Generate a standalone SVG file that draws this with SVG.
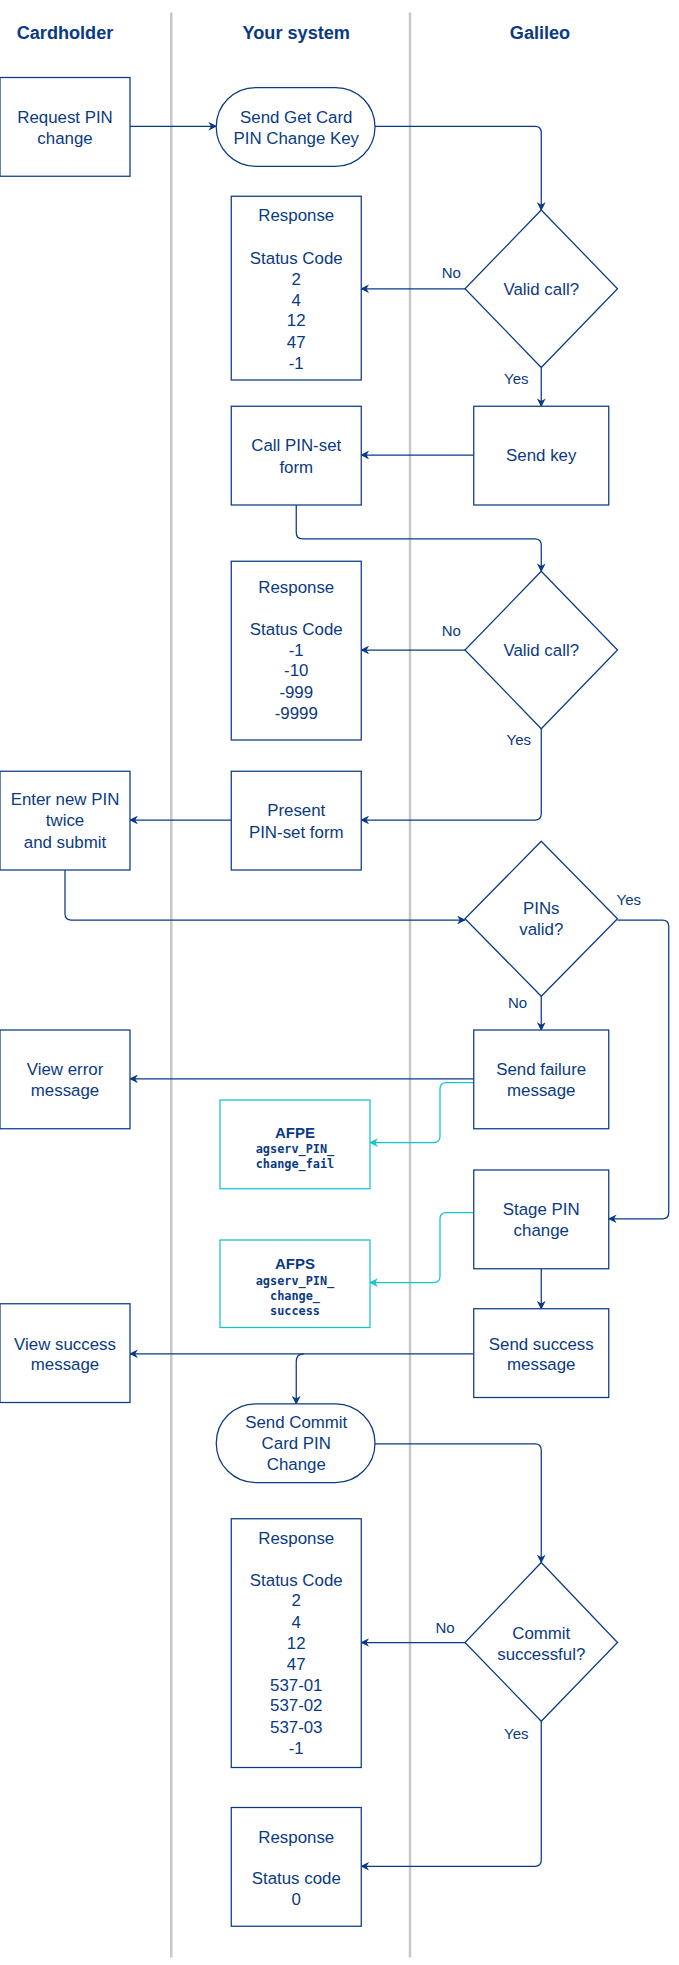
<svg xmlns="http://www.w3.org/2000/svg" width="679" height="1965" viewBox="0 0 679 1965">
<defs>
<style>
.n{fill:#fff;stroke:#0a3a84;stroke-width:1}
.c{fill:#fff;stroke:#17c3cc;stroke-width:1}
text{font-family:"Liberation Sans",Arial,sans-serif;font-size:13.5px;fill:#0a3a84;text-anchor:middle}
.h{font-weight:bold;font-size:14.5px}
.m{font-family:"DejaVu Sans Mono","Liberation Mono",monospace;font-weight:bold;font-size:9.5px}
.b{font-weight:bold;font-size:12px}
.e{fill:none;stroke:#0a3a84;stroke-width:1}
.ec{fill:none;stroke:#17c3cc;stroke-width:1}
.l{font-size:12px}
</style>
<marker id="a" viewBox="0 0 10 10" refX="9" refY="5" markerWidth="7" markerHeight="7" orient="auto"><path d="M0,0 L10,5 L0,10 L3,5 Z" fill="#0a3a84"/></marker>
<marker id="ac" viewBox="0 0 10 10" refX="9" refY="5" markerWidth="7" markerHeight="7" orient="auto"><path d="M0,0 L10,5 L0,10 L3,5 Z" fill="#17c3cc"/></marker>
</defs>
<rect width="679" height="1965" fill="#fff"/>
<g transform="scale(1.25)">
<g id="lanes">
<line x1="137" y1="10" x2="137" y2="1566" stroke="#c8c8c8" stroke-width="2"/>
<line x1="328" y1="10" x2="328" y2="1566" stroke="#c8c8c8" stroke-width="2"/>
<text class="h" x="52" y="31">Cardholder</text>
<text class="h" x="237" y="31">Your system</text>
<text class="h" x="432" y="31">Galileo</text>
</g>
<g id="connectors">
<path class="e" marker-end="url(#a)" d="M104,101 H173"/>
<path class="e" marker-end="url(#a)" d="M300,101 H428 Q433,101 433,106 V168"/>
<path class="e" marker-end="url(#a)" d="M372,231 H289"/>
<path class="e" marker-end="url(#a)" d="M433,294 V325"/>
<path class="e" marker-end="url(#a)" d="M379,364 H289"/>
<path class="e" marker-end="url(#a)" d="M237,404 V426 Q237,431 242,431 H428 Q433,431 433,436 V457"/>
<path class="e" marker-end="url(#a)" d="M372,520 H289"/>
<path class="e" marker-end="url(#a)" d="M433,583 V651 Q433,656 428,656 H289"/>
<path class="e" marker-end="url(#a)" d="M185,656 H104"/>
<path class="e" marker-end="url(#a)" d="M52,696 V731 Q52,736 57,736 H372"/>
<path class="e" marker-end="url(#a)" d="M494,736 H530 Q535,736 535,741 V970 Q535,975 530,975 H487"/>
<path class="e" marker-end="url(#a)" d="M433,797 V824"/>
<path class="e" marker-end="url(#a)" d="M379,863 H104"/>
<path class="ec" marker-end="url(#ac)" d="M379,866 H357 Q352,866 352,871 V909 Q352,914 347,914 H296"/>
<path class="ec" marker-end="url(#ac)" d="M379,970 H357 Q352,970 352,975 V1021 Q352,1026 347,1026 H296"/>
<path class="e" marker-end="url(#a)" d="M433,1015 V1047"/>
<path class="e" marker-end="url(#a)" d="M379,1083 H104"/>
<path class="e" marker-end="url(#a)" d="M243,1083 Q237,1083 237,1089 V1123"/>
<path class="e" marker-end="url(#a)" d="M300,1155 H428 Q433,1155 433,1160 V1250"/>
<path class="e" marker-end="url(#a)" d="M372,1314 H289"/>
<path class="e" marker-end="url(#a)" d="M433,1377 V1488 Q433,1493 428,1493 H289"/>
<text class="l" x="361" y="222">No</text>
<text class="l" x="413" y="307">Yes</text>
<text class="l" x="361" y="509">No</text>
<text class="l" x="415" y="596">Yes</text>
<text class="l" x="503" y="724">Yes</text>
<text class="l" x="414" y="806">No</text>
<text class="l" x="356" y="1306">No</text>
<text class="l" x="413" y="1391">Yes</text>
</g>
<g id="request"><rect class="n" x="0" y="62" width="104" height="79"/><text x="52" y="98">Request PIN</text><text x="52" y="115">change</text></g>
<g id="getkey"><rect class="n" x="173" y="70" width="127" height="63" rx="31.5"/><text x="237" y="98">Send Get Card</text><text x="237" y="115">PIN Change Key</text></g>
<g id="resp1"><rect class="n" x="185" y="157" width="104" height="147"/><text x="237" y="177">Response</text><text x="237" y="211">Status Code</text><text x="237" y="228">2</text><text x="237" y="245">4</text><text x="237" y="261">12</text><text x="237" y="278">47</text><text x="237" y="295">-1</text></g>
<g id="valid1"><path class="n" d="M433,168 L494,231 L433,294 L372,231 Z"/><text x="433" y="236">Valid call?</text></g>
<g id="sendkey"><rect class="n" x="379" y="325" width="108" height="79"/><text x="433" y="369">Send key</text></g>
<g id="callform"><rect class="n" x="185" y="325" width="104" height="79"/><text x="237" y="361">Call PIN-set</text><text x="237" y="378">form</text></g>
<g id="valid2"><path class="n" d="M433,457 L494,520 L433,583 L372,520 Z"/><text x="433" y="525">Valid call?</text></g>
<g id="resp2"><rect class="n" x="185" y="449" width="104" height="143"/><text x="237" y="474">Response</text><text x="237" y="508">Status Code</text><text x="237" y="525">-1</text><text x="237" y="541">-10</text><text x="237" y="558">-999</text><text x="237" y="575">-9999</text></g>
<g id="present"><rect class="n" x="185" y="617" width="104" height="79"/><text x="237" y="653">Present</text><text x="237" y="670">PIN-set form</text></g>
<g id="enter"><rect class="n" x="0" y="617" width="104" height="79"/><text x="52" y="644">Enter new PIN</text><text x="52" y="661">twice</text><text x="52" y="678">and submit</text></g>
<g id="pinsvalid"><path class="n" d="M433,673 L494,735 L433,797 L372,735 Z"/><text x="433" y="731">PINs</text><text x="433" y="748">valid?</text></g>
<g id="failure"><rect class="n" x="379" y="824" width="108" height="79"/><text x="433" y="860">Send failure</text><text x="433" y="877">message</text></g>
<g id="viewerr"><rect class="n" x="0" y="824" width="104" height="79"/><text x="52" y="860">View error</text><text x="52" y="877">message</text></g>
<g id="afpe"><rect class="c" x="176" y="880" width="120" height="71"/><text class="b" x="236" y="910">AFPE</text><text class="m" x="236" y="922">agserv_PIN_</text><text class="m" x="236" y="934">change_fail</text></g>
<g id="stage"><rect class="n" x="379" y="936" width="108" height="79"/><text x="433" y="972">Stage PIN</text><text x="433" y="989">change</text></g>
<g id="afps"><rect class="c" x="176" y="992" width="120" height="70"/><text class="b" x="236" y="1015">AFPS</text><text class="m" x="236" y="1028">agserv_PIN_</text><text class="m" x="236" y="1040">change_</text><text class="m" x="236" y="1052">success</text></g>
<g id="success"><rect class="n" x="379" y="1047" width="108" height="71"/><text x="433" y="1080">Send success</text><text x="433" y="1096">message</text></g>
<g id="viewsucc"><rect class="n" x="0" y="1043" width="104" height="79"/><text x="52" y="1080">View success</text><text x="52" y="1096">message</text></g>
<g id="commit"><rect class="n" x="173" y="1123" width="127" height="63" rx="31.5"/><text x="237" y="1142">Send Commit</text><text x="237" y="1159">Card PIN</text><text x="237" y="1176">Change</text></g>
<g id="resp3"><rect class="n" x="185" y="1215" width="104" height="199"/><text x="237" y="1235">Response</text><text x="237" y="1269">Status Code</text><text x="237" y="1285">2</text><text x="237" y="1302">4</text><text x="237" y="1319">12</text><text x="237" y="1336">47</text><text x="237" y="1353">537-01</text><text x="237" y="1369">537-02</text><text x="237" y="1386">537-03</text><text x="237" y="1403">-1</text></g>
<g id="commitok"><path class="n" d="M433,1250 L494,1314 L433,1377 L372,1314 Z"/><text x="433" y="1311">Commit</text><text x="433" y="1328">successful?</text></g>
<g id="resp4"><rect class="n" x="185" y="1446" width="104" height="95"/><text x="237" y="1474">Response</text><text x="237" y="1507">Status code</text><text x="237" y="1524">0</text></g>
</g>
</svg>
